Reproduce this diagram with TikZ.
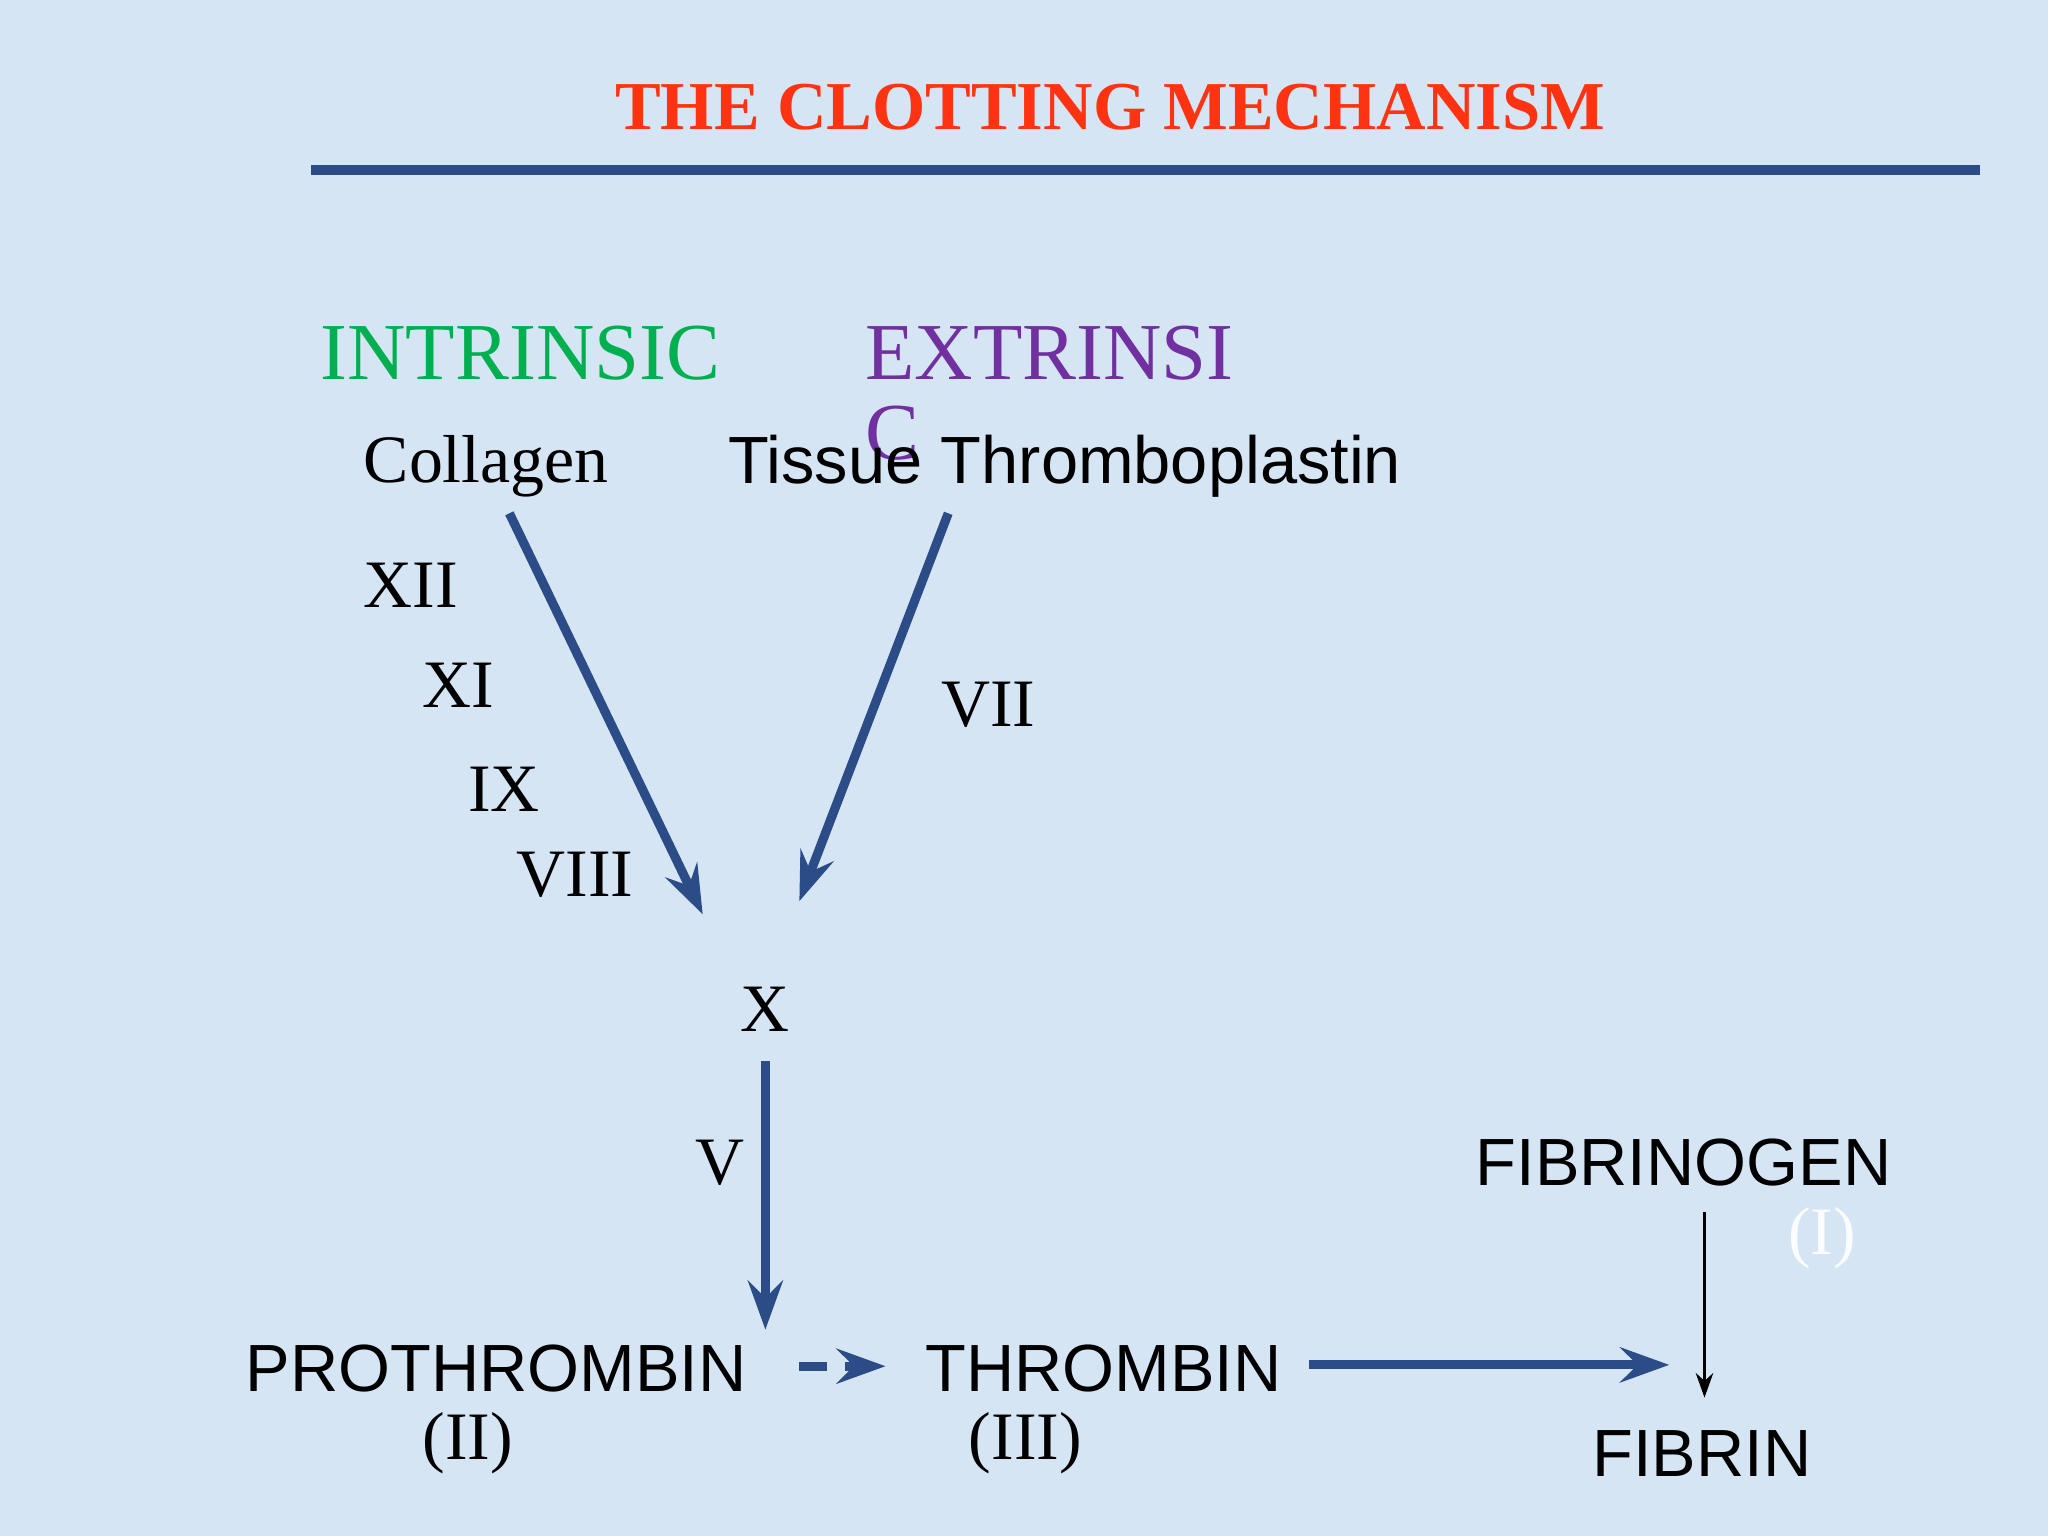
\documentclass[tikz,border=0pt]{standalone}
\usepackage{fontspec}
\setmainfont{Liberation Serif}
\setsansfont{Liberation Sans}
\usetikzlibrary{arrows.meta}
\definecolor{bg}{HTML}{D5E5F4}
\definecolor{navy}{HTML}{2B4C86}
\definecolor{ttl}{HTML}{FF3311}
\definecolor{grn}{HTML}{00B050}
\definecolor{pur}{HTML}{7030A0}
\tikzset{
  serif/.style={font=\fontsize{19.3}{22}\selectfont},
  sans/.style={font=\sffamily\fontsize{19}{21}\selectfont},
  bigarrow/.style={navy,line width=2.6pt,-{Stealth[length=14pt,width=10pt,inset=5pt]}},
}
\begin{document}
\begin{tikzpicture}[x=0.01306cm,y=-0.01306cm]
\fill[bg] (0,0) rectangle (1568,1176);
\useasboundingbox (0,0) rectangle (1568,1176);
\node[text=ttl,font=\bfseries\fontsize{19.5}{22}\selectfont] (title) at (850,82) {THE CLOTTING MECHANISM};
\draw[navy,line width=3pt] (238,130) -- (1516,130);
\node[text=grn,font=\fontsize{23}{26}\selectfont,anchor=west,inner sep=0] (intr) at (245,270) {INTRINSIC};
\node[text=pur,font=\fontsize{23}{26}\selectfont,anchor=west,inner sep=0] (extr) at (662,270) {EXTRINSI};
\node[text=pur,font=\fontsize{23}{26}\selectfont,anchor=west,inner sep=0] (extc) at (662,332) {C};
\node[serif,anchor=west,inner sep=0] (coll) at (278,357) {Collagen};
\node[sans,anchor=west,inner sep=0] (tiss) at (557,357) {Tissue Thromboplastin};
\node[serif,anchor=west,inner sep=0] (xii) at (278,448) {XII};
\node[serif,anchor=west,inner sep=0] (xi) at (323,525) {XI};
\node[serif,anchor=west,inner sep=0] (ix) at (358,604) {IX};
\node[serif,anchor=west,inner sep=0] (viii) at (395,670) {VIII};
\node[serif,anchor=west,inner sep=0] (vii) at (720,540) {VII};
\node[serif] (x) at (586,773) {X};
\node[serif] (v) at (551,890) {V};
\coordinate (c1) at (390,393); \coordinate (c1e) at (538,700);
\coordinate (t1) at (726,393); \coordinate (t1e) at (612,690);
\draw[bigarrow] (c1) -- (c1e);
\draw[bigarrow] (t1) -- (t1e);
\coordinate (xs) at (586,812); \coordinate (xe) at (586,1018);
\draw[bigarrow] (xs) -- (xe);
\node[sans] (pro) at (380,1048) {PROTHROMBIN};
\node[serif] (ii) at (358,1105) {(II)};
\node[sans] (thr) at (845,1048) {THROMBIN};
\node[serif] (iii) at (785,1105) {(III)};
\node[sans] (fgn) at (1289,890) {FIBRINOGEN};
\node[serif,text=white!90!bg] (i) at (1395,948) {(I)};
\node[sans] (fib) at (1303,1113) {FIBRIN};
\coordinate (d1) at (612,1046); \coordinate (d2) at (678,1046);
\draw[navy,line width=2.6pt,dash pattern=on 8pt off 5pt,-{Stealth[length=14pt,width=10pt,inset=5pt]}] (d1) -- (d2);
\coordinate (a1) at (1002,1045); \coordinate (a2) at (1278,1045);
\draw[bigarrow] (a1) -- (a2);
\coordinate (f1) at (1305,928); \coordinate (f2) at (1305,1070);
\draw[black,line width=0.6pt,-{Stealth[length=7pt,width=5pt]}] (f1) -- (f2);
\end{tikzpicture}
\end{document}
